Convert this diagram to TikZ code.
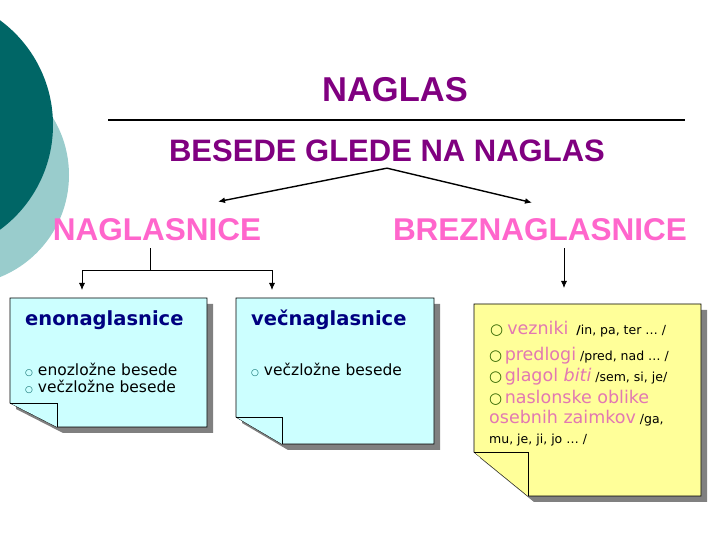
\documentclass[tikz,border=0pt]{standalone}
\usepackage{fontspec}
\setmainfont{Liberation Sans}
\newfontfamily\verd{DejaVu Sans}
\usetikzlibrary{arrows.meta, positioning, calc}

\definecolor{darkteal}{RGB}{0,102,102}
\definecolor{lightteal}{RGB}{153,204,204}
\definecolor{titlepurple}{RGB}{128,0,128}
\definecolor{hotpink}{RGB}{255,102,204}
\definecolor{dustypink}{RGB}{226,120,178}
\definecolor{cardblue}{RGB}{204,255,255}
\definecolor{cardyellow}{RGB}{255,255,153}
\definecolor{navy}{RGB}{0,0,128}
\definecolor{bulletgreen}{RGB}{51,102,0}
\definecolor{shadowgray}{RGB}{128,128,128}

% bullets and coloured key words
\newcommand{\smallbul}{{\fontsize{9}{9}\selectfont\textcolor{darkteal}{○}}}
\newcommand{\greenbul}{{\fontsize{15}{15}\selectfont\textcolor{bulletgreen}{○}}}
\newcommand{\kw}[1]{{\fontsize{17.5}{20}\selectfont\textcolor{dustypink}{#1}}}

% card with shadow and folded corner: node, fill, fold width, fold height
\newcommand{\notecard}[4]{%
  \fill[shadowgray] ([shift={(6,-6)}]#1.north west) -- ([shift={(6,-6)}]#1.north east)
    -- ([shift={(6,-6)}]#1.south east) -- ([shift={(#3+6,-6)}]#1.south west)
    -- ([shift={(6,#4-6)}]#1.south west) -- cycle;
  \filldraw[fill=#2, line width=0.8pt] (#1.north west) -- (#1.north east) -- (#1.south east)
    -- ([xshift=#3pt]#1.south west) -- ([yshift=#4pt]#1.south west) -- cycle;
  \filldraw[fill=#2, line width=0.8pt] ([yshift=#4pt]#1.south west)
    -- ([shift={(#3,#4)}]#1.south west) -- ([xshift=#3pt]#1.south west);
}

\begin{document}
\begin{tikzpicture}[
    x=1pt, y=1pt,
    title/.style={font=\bfseries\fontsize{34.5}{41}\selectfont, text=titlepurple, inner sep=0pt},
    subtitle/.style={font=\bfseries\fontsize{31}{37}\selectfont, text=titlepurple, inner sep=0pt},
    group/.style={font=\bfseries\fontsize{31.5}{37}\selectfont, text=hotpink, inner sep=0pt},
    card/.style={rectangle, inner sep=0pt, outer sep=0pt},
    cardhead/.style={font=\verd\bfseries\fontsize{19.5}{23}\selectfont, text=navy, inner sep=0pt, anchor=base west},
    item/.style={font=\verd\fontsize{15.5}{18}\selectfont, inner sep=0pt, anchor=base west},
    note/.style={font=\verd\fontsize{12.5}{15}\selectfont, inner sep=0pt, anchor=base west},
    arrow/.style={-{Latex[length=7pt, width=6pt]}, line width=1.4pt},
    thinarrow/.style={-{Latex[length=7pt, width=6pt]}, line width=0.8pt}
]
\clip (0,0) rectangle (720,540);

% circles on the left
\fill[lightteal] (-41,365) circle (110);
\fill[darkteal] (-77,415) circle (130);

% titles
\node[title] (naglas) at (395,450) {NAGLAS};
\draw[line width=1.6pt] (108,420) -- (685,420);
\node[subtitle] (besede) at (387,389) {BESEDE GLEDE NA NAGLAS};
\node[group] (nagl) at (157,310) {NAGLASNICE};
\node[group] (breznagl) at (540,310) {BREZNAGLASNICE};

\coordinate[below=6pt of besede] (apex);
\draw[arrow] (apex) -- ([xshift=61pt, yshift=17pt]nagl.north);
\draw[arrow] (apex) -- ([xshift=-8pt, yshift=16pt]breznagl.north);

% cards
\node[card, minimum width=197pt, minimum height=129pt] (eno) at (108.5,177.5) {};
\node[card, minimum width=198pt, minimum height=146pt] (vec) at (335,169) {};
\node[card, minimum width=227pt, minimum height=192pt] (brez) at (587.5,140) {};
\notecard{eno}{cardblue}{47}{24}
\notecard{vec}{cardblue}{46}{27}
\notecard{brez}{cardyellow}{54}{44}

\coordinate (split) at (150,270);
\draw[line width=0.8pt] ([xshift=-7pt, yshift=-7pt]nagl.south) -- (split);
\draw[thinarrow] (split) -| ([xshift=-26.5pt, yshift=8pt]eno.north);
\draw[thinarrow] (split) -| ([xshift=-63pt, yshift=8pt]vec.north);
\draw[thinarrow] ([xshift=24pt, yshift=-7pt]breznagl.south) -- ([xshift=-23.5pt, yshift=16pt]brez.north);

% card texts
\node[cardhead] (enoT) at (25,214) {enonaglasnice};
\node[item] (eno1) at (25,164) {\smallbul\ enozložne besede};
\node[item] (eno2) at (25,147) {\smallbul\ večzložne besede};

\node[cardhead] (vecT) at (251,214) {večnaglasnice};
\node[item] (vec1) at (251,164) {\smallbul\ večzložne besede};

\node[note] (b1) at (490,205) {\greenbul\ \kw{vezniki} \ {\bfseries\large /}in, pa, ter … /};
\node[note] (b2) at (489,179) {\greenbul\hspace{2.5pt}\kw{predlogi} /pred, nad … /};
\node[note] (b3) at (489,158) {\greenbul\hspace{2.5pt}\kw{glagol \textit{biti}} /sem, si, je/};
\node[note] (b4) at (489,136) {\greenbul\hspace{2.5pt}\kw{naslonske oblike}};
\node[note] (b5) at (489,116) {\kw{osebnih zaimkov} /ga,};
\node[note] (b6) at (489,96) {mu, je, ji, jo … /};
\end{tikzpicture}
\end{document}
